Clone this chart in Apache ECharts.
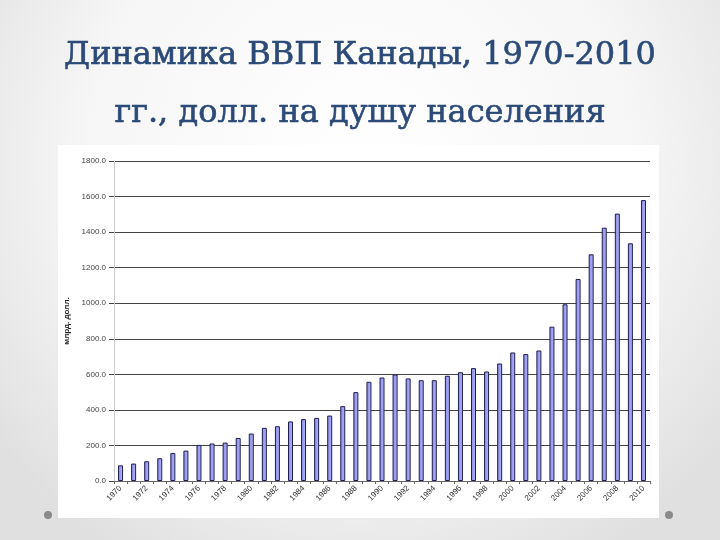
<!DOCTYPE html>
<html>
<head>
<meta charset="utf-8">
<script src="https://cdn.jsdelivr.net/npm/echarts@6/dist/echarts.min.js"></script>
<style>
    html, body { margin: 0; padding: 0; }
    #myCharts { width: 720px; height: 540px; }
</style>
</head>
<body>
<div id="myCharts"></div>
<script>
    // годы и значения
    const years = [];
    for (let y = 1970; y <= 2010; y++) years.push(String(y));
    const gdp = [
        88, 98, 111, 128, 158, 171, 203, 211, 216, 242,
        267, 299, 308, 335, 348, 355, 368, 421, 500, 558,
        582, 599, 577, 567, 567, 592, 612, 635, 616, 661,
        723, 714, 734, 868, 994, 1136, 1275, 1425, 1504, 1337,
        1580
    ];
    const titleLines = ['Динамика ВВП Канады, 1970-2010', 'гг., долл. на душу населения'];
    const axisName = 'млрд. долл.';

    const myCharts = echarts.init(document.getElementById('myCharts'));
    const options = {
        backgroundColor: {
            type: 'radial', x: 0.5, y: 0.3, r: 0.85,
            colorStops: [
                { offset: 0, color: '#ffffff' },
                { offset: 0.6, color: '#f6f6f6' },
                { offset: 1, color: '#e0e0e0' }
            ]
        },
        title: {
            text: titleLines.join('\n'),
            left: 'center',
            top: 22,
            textStyle: {
                fontFamily: 'DejaVu Serif',
                fontSize: 32,
                fontWeight: 500,
                color: '#2b4a78',
                lineHeight: 58,
                textBorderColor: '#2b4a78',
                textBorderWidth: 0.6
            }
        },
        graphic: [
            { type: 'rect', z: -1, shape: { x: 58, y: 145, width: 601, height: 373 },
              style: { fill: '#ffffff' } },
            { type: 'circle', shape: { cx: 48, cy: 515, r: 4 }, style: { fill: '#8a8a8a' } },
            { type: 'circle', shape: { cx: 669, cy: 515, r: 4 }, style: { fill: '#8a8a8a' } }
        ],
        grid: { left: 114, right: 70, top: 161, bottom: 59 },
        xAxis: {
            type: 'category',
            data: years,
            axisLine: { lineStyle: { color: '#666' } },
            axisTick: { show: true, interval: 0, length: 3, lineStyle: { color: '#666' } },
            axisLabel: {
                interval: 1, rotate: 45, fontSize: 8, color: '#333',
                fontFamily: 'Liberation Sans', margin: 6
            }
        },
        yAxis: {
            type: 'value',
            min: 0, max: 1800, interval: 200,
            name: axisName,
            nameLocation: 'middle',
            nameGap: 34,
            nameTextStyle: { fontSize: 8, fontWeight: 'bold', color: '#222', fontFamily: 'Liberation Sans' },
            axisLine: { show: true, lineStyle: { color: '#ccc' } },
            axisTick: { show: true, length: 5, lineStyle: { color: '#444' } },
            axisLabel: {
                fontSize: 8, color: '#444', fontFamily: 'Liberation Sans', margin: 8,
                formatter: v => v.toFixed(1)
            },
            splitLine: { lineStyle: { color: '#444', width: 1 } }
        },
        series: [{
            type: 'bar',
            data: gdp,
            barWidth: 5,
            animation: false,
            itemStyle: {
                color: {
                    type: 'linear', x: 0, y: 0, x2: 1, y2: 0,
                    colorStops: [
                        { offset: 0, color: '#8a8ae6' },
                        { offset: 1, color: '#b4b4ff' }
                    ]
                },
                borderColor: '#1e1e4e',
                borderWidth: 1
            }
        }]
    };
    myCharts.setOption(options);
</script>
</body>
</html>
